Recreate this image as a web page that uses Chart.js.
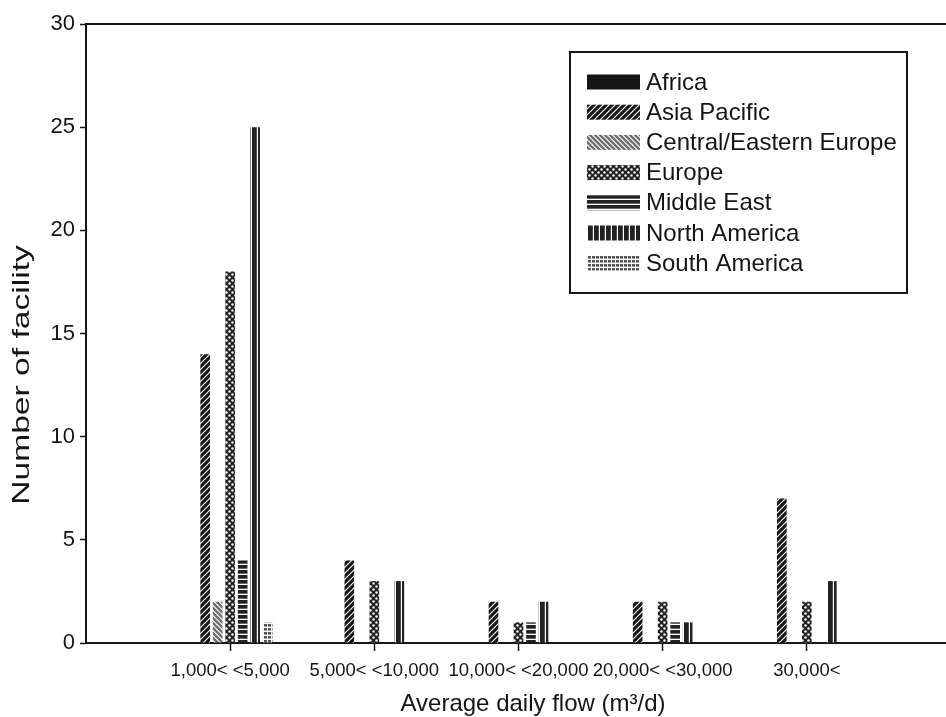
<!DOCTYPE html>
<html><head><meta charset="utf-8">
<script src="https://cdn.jsdelivr.net/npm/chart.js@4"></script>
<style>html,body{margin:0;padding:0;background:#fff;overflow:hidden;width:946px;height:717px}</style>
</head><body>
<canvas id="c" width="960" height="717" style="display:block"></canvas>
<script>
const categories = ['1,000< <5,000', '5,000< <10,000', '10,000< <20,000', '20,000< <30,000', '30,000<'];
const regions = ['Africa', 'Asia Pacific', 'Central/Eastern Europe', 'Europe', 'Middle East', 'North America', 'South America'];
const africa = [0, 0, 0, 0, 0];
const asiaPacific = [14, 4, 2, 2, 7];
const centralEasternEurope = [2, 0, 0, 0, 0];
const europe = [18, 3, 1, 2, 2];
const middleEast = [4, 0, 1, 1, 0];
const northAmerica = [25, 3, 2, 1, 3];
const southAmerica = [1, 0, 0, 0, 0];
const yTicks = [0, 5, 10, 15, 20, 25, 30];
const xTitle = 'Average daily flow (m³/d)';
const yTitle = 'Number of facility';

const canvas = document.getElementById('c');
const mainCtx = canvas.getContext('2d');
function pat(w, h, draw) {
  const c = document.createElement('canvas'); c.width = w; c.height = h;
  const g = c.getContext('2d'); draw(g, w, h);
  return mainCtx.createPattern(c, 'repeat');
}
const ink = '#151515';
const fills = [
  ink,
  pat(6, 6, (g, w, h) => { g.fillStyle = '#161616'; g.fillRect(0, 0, w, h); g.strokeStyle = '#fff'; g.lineWidth = 1.1;
    [[0, 6, 6, 0], [-1, 1, 1, -1], [5, 7, 7, 5]].forEach(l => { g.beginPath(); g.moveTo(l[0], l[1]); g.lineTo(l[2], l[3]); g.stroke(); }); }),
  pat(5, 5, (g, w, h) => { g.fillStyle = '#fff'; g.fillRect(0, 0, w, h); g.strokeStyle = '#6e6e6e'; g.lineWidth = 2.4;
    [[0, 0, 5, 5], [-1, 4, 1, 6], [4, -1, 6, 1]].forEach(l => { g.beginPath(); g.moveTo(l[0], l[1]); g.lineTo(l[2], l[3]); g.stroke(); }); }),
  pat(6, 6, (g, w, h) => { g.fillStyle = '#222'; g.fillRect(0, 0, w, h); g.fillStyle = '#fff';
    [[1.5, 1.5], [4.5, 4.5]].forEach(p => { g.beginPath(); g.arc(p[0], p[1], 1.2, 0, Math.PI * 2); g.fill(); }); }),
  pat(4, 5, (g, w, h) => { g.fillStyle = '#fff'; g.fillRect(0, 0, w, h); g.fillStyle = '#222'; g.fillRect(0, 0, w, 3.7); }),
  pat(6, 4, (g, w, h) => { g.fillStyle = '#fff'; g.fillRect(0, 0, w, h); g.fillStyle = '#222'; g.fillRect(0, 0, 4.8, h); }),
  pat(4, 4, (g, w, h) => { g.fillStyle = '#fff'; g.fillRect(0, 0, w, h); g.fillStyle = '#555'; g.fillRect(0, 0, 3, 2.6); })
];
const seriesValues = [africa, asiaPacific, centralEasternEurope, europe, middleEast, northAmerica, southAmerica];

Chart.defaults.font.family = '"Liberation Sans", Arial, sans-serif';
Chart.defaults.color = ink;

const frame = {
  id: 'frame',
  afterDraw(chart) {
    const ctx = chart.ctx, a = chart.chartArea;
    ctx.save();
    ctx.strokeStyle = ink; ctx.lineWidth = 2;
    ctx.beginPath(); ctx.moveTo(a.left - 1, a.top); ctx.lineTo(a.right, a.top); ctx.stroke();
    // legend
    ctx.strokeRect(570, 52, 337, 241);
    ctx.font = '24px "Liberation Sans", Arial, sans-serif';
    ctx.textBaseline = 'middle'; ctx.textAlign = 'left';
    chart.data.datasets.forEach((ds, i) => {
      const y = 82 + i * 30.2;
      ctx.fillStyle = ds.backgroundColor; ctx.fillRect(587, y - 7.5, 53, 15);
      ctx.fillStyle = ink; ctx.fillText(ds.label, 646, y + 1);
    });
    // x title
    ctx.textAlign = 'center';
    ctx.fillText(xTitle, 533, 704);
    // y title
    ctx.translate(22, 375); ctx.rotate(-Math.PI / 2); ctx.scale(1.4, 1);
    ctx.fillText(yTitle, 0, 0);
    ctx.restore();
  }
};

new Chart(canvas, {
  type: 'bar',
  data: {
    labels: ['', ...categories, ''],
    datasets: regions.map((r, i) => ({
      label: r,
      data: [null, ...seriesValues[i], null],
      backgroundColor: fills[i],
      borderWidth: 0,
      categoryPercentage: 0.607,
      barPercentage: 0.77
    }))
  },
  options: {
    responsive: false,
    animation: false,
    layout: { padding: { top: 24, right: 4, left: 0, bottom: 0 } },
    plugins: { legend: { display: false }, tooltip: { enabled: false } },
    scales: {
      x: {
        type: 'category',
        offset: false,
        grid: { offset: false, drawOnChartArea: false, drawTicks: true, tickLength: 8, tickWidth: 1.5,
          tickColor: c => (c.index > 0 && c.index < categories.length + 1) ? ink : 'rgba(0,0,0,0)' },
        border: { color: ink, width: 2 },
        ticks: { font: { size: 18.5 }, color: ink, padding: 9, autoSkip: false, maxRotation: 0 },
        afterFit: s => { s.height = 74; }
      },
      y: {
        min: 0, max: 30,
        afterBuildTicks: s => { s.ticks = yTicks.map(v => ({ value: v })); },
        grid: { drawOnChartArea: false, drawTicks: true, tickLength: 6, tickWidth: 1.5, tickColor: ink },
        border: { color: ink, width: 2 },
        ticks: { font: { size: 22 }, color: ink, padding: 5 },
        afterFit: s => { s.width = 86; }
      }
    }
  },
  plugins: [frame]
});
</script>
</body></html>
